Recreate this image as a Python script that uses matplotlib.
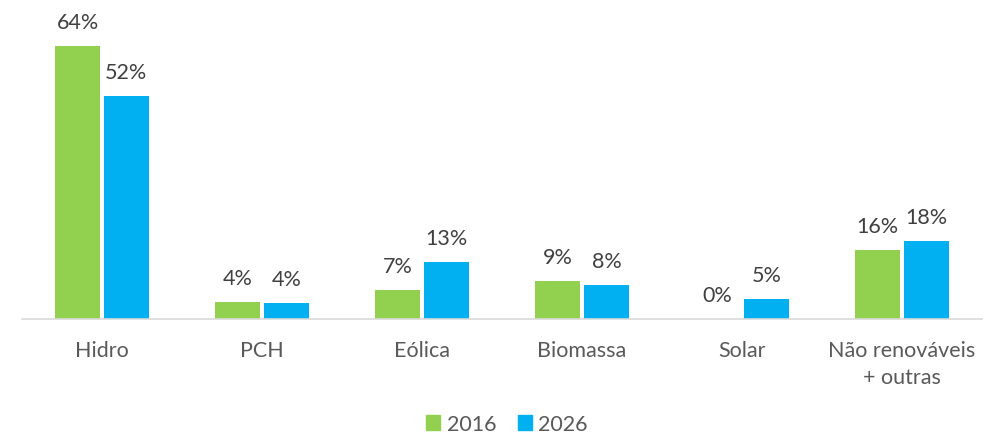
import numpy as np
import matplotlib as mpl
mpl.use('Agg')
import matplotlib.pyplot as plt
from matplotlib.patches import Patch

# Data
categories = ['Hidro', 'PCH', 'Eólica', 'Biomassa', 'Solar', 'Não renováveis\n+ outras']
share_2016 = [64.0, 4.0, 6.8, 8.9, 0.0, 16.2]
share_2026 = [52.2, 3.7, 13.4, 8.0, 4.6, 18.4]
series_names = ['2016', '2026']

green = '#92D050'
blue = '#00B0F0'
text_col = '#404040'
cat_col = '#595959'

plt.rcParams['font.family'] = ['Lato', 'DejaVu Sans']
fs = 15.5

fig = plt.figure(figsize=(9.84, 4.35), dpi=100)
ax = fig.add_axes([22/984, (435-320)/435, 960/984, 320/435])

x = np.arange(len(categories))
w = 0.28
off = 0.1525
b1 = ax.bar(x - off, share_2016, w, color=green)
b2 = ax.bar(x + off, share_2026, w, color=blue)

for bars, vals in [(b1, share_2016), (b2, share_2026)]:
    for rect, v in zip(bars, vals):
        ax.annotate(f'{v:.0f}%', (rect.get_x() + rect.get_width()/2, rect.get_height()),
                    xytext=(0, 10), textcoords='offset points',
                    ha='center', va='bottom', fontsize=fs, color=text_col)

ax.set_xlim(-0.5, len(categories) - 0.5)
ax.set_ylim(0, 64.0 * 320 / 273)
ax.set_xticks(x)
ax.set_xticklabels(categories, fontsize=fs, color=cat_col, linespacing=1.45)
ax.tick_params(axis='x', length=0, pad=15)
ax.set_yticks([])
for s in ['top', 'right', 'left']:
    ax.spines[s].set_visible(False)
ax.spines['bottom'].set_color('#D9D9D9')
ax.spines['bottom'].set_linewidth(1.2)

handles = [Patch(color=green), Patch(color=blue)]
fig.legend(handles, series_names, loc='center', bbox_to_anchor=(507/984, 1 - 425/435),
           ncol=2, frameon=False, fontsize=fs, handlelength=0.65, handleheight=0.65,
           handletextpad=0.3, columnspacing=1.0, labelcolor=cat_col)

fig.savefig('out.png', dpi=100)
